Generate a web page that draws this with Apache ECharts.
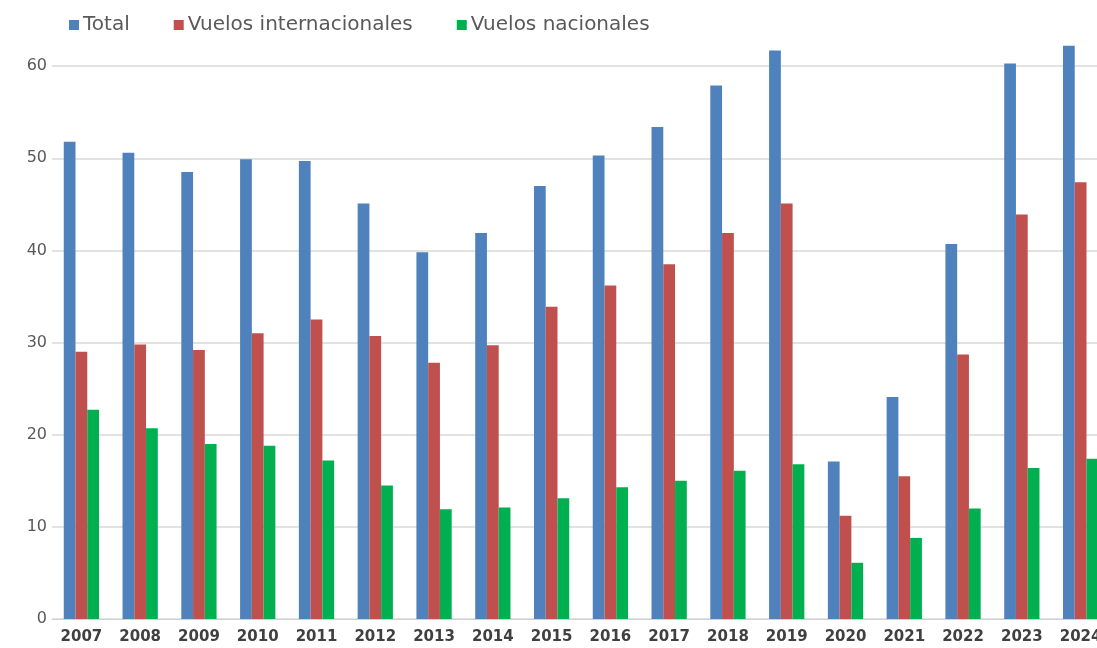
<!DOCTYPE html>
<html>
<head>
<meta charset="utf-8">
<script src="https://cdn.jsdelivr.net/npm/echarts@6/dist/echarts.min.js"></script>
<style>
    html, body { margin: 0; padding: 0; background: #fff; }
    #chart { width: 1097px; height: 648px; }
</style>
</head>
<body>
<div id="chart"></div>
<script>
// Data
var years = ['2007', '2008', '2009', '2010', '2011', '2012', '2013', '2014', '2015',
    '2016', '2017', '2018', '2019', '2020', '2021', '2022', '2023', '2024'];
var total = [51.8, 50.6, 48.5, 49.9, 49.7, 45.1, 39.8, 41.9, 47.0,
    50.3, 53.4, 57.9, 61.7, 17.1, 24.1, 40.7, 60.3, 62.2];
var internacionales = [29.0, 29.8, 29.2, 31.0, 32.5, 30.7, 27.8, 29.7, 33.9,
    36.2, 38.5, 41.9, 45.1, 11.2, 15.5, 28.7, 43.9, 47.4];
var nacionales = [22.7, 20.7, 19.0, 18.8, 17.2, 14.5, 11.9, 12.1, 13.1,
    14.3, 15.0, 16.1, 16.8, 6.1, 8.8, 12.0, 16.4, 17.4];

var FONT = '"DejaVu Sans", Verdana, sans-serif';

var chart = echarts.init(document.getElementById('chart'));

chart.setOption({
    animation: false,
    textStyle: {
        fontFamily: FONT
    },

    // Legend
    legend: {
        left: 64,
        top: 10,
        itemWidth: 10,
        itemHeight: 10,
        itemGap: 44,
        icon: 'rect',
        textStyle: {
            color: '#595959',
            fontFamily: FONT,
            fontSize: 20,
            padding: [0, 0, 0, -1]
        }
    },

    // Grid runs past the top and right edges, as in the cropped original
    grid: {
        left: 52,
        width: 1058,
        top: -26,
        height: 645,
        outerBoundsMode: 'none',
        containLabel: false
    },

    xAxis: {
        type: 'category',
        data: years,
        axisTick: { show: false },
        axisLine: {
            lineStyle: { color: '#d0d0d0', width: 1 }
        },
        axisLabel: {
            color: '#404040',
            fontFamily: FONT,
            fontSize: 15,
            fontWeight: 'bold',
            margin: 11
        }
    },

    yAxis: {
        type: 'value',
        min: 0,
        max: 70,
        interval: 10,
        axisLine: { show: false },
        axisTick: { show: false },
        axisLabel: {
            color: '#595959',
            fontFamily: FONT,
            fontSize: 16,
            margin: 5
        },
        splitLine: {
            lineStyle: { color: '#d9d9d9', width: 1.5 }
        }
    },

    series: [{
        name: 'Total',
        type: 'bar',
        data: total,
        barGap: '0%',
        barCategoryGap: '40%',
        itemStyle: { color: '#4f81bd' }
    }, {
        name: 'Vuelos internacionales',
        type: 'bar',
        data: internacionales,
        itemStyle: { color: '#c0504d' }
    }, {
        name: 'Vuelos nacionales',
        type: 'bar',
        data: nacionales,
        itemStyle: { color: '#00b050' }
    }]
});
</script>
</body>
</html>
